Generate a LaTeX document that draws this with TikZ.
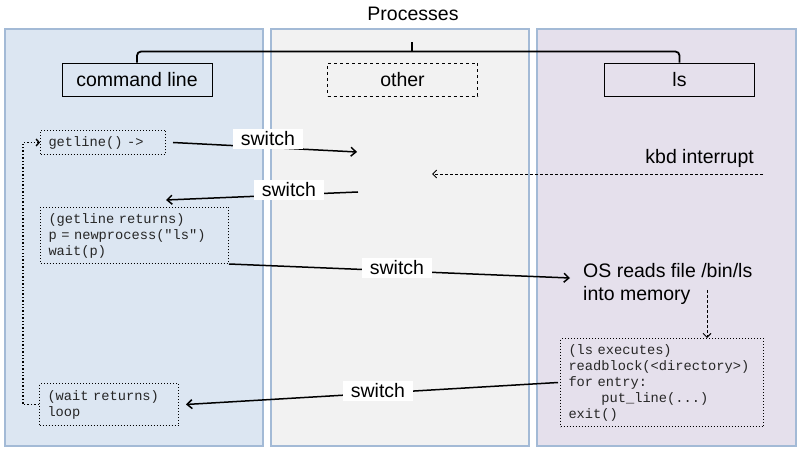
\documentclass[tikz,border=0pt]{standalone}
\usepackage{fontspec}
\setmainfont{Liberation Sans}
\setmonofont{Liberation Mono}
\usepackage{tikz}
\usetikzlibrary{arrows.meta}
\definecolor{cmdfill}{HTML}{DCE6F2}
\definecolor{otherfill}{HTML}{F2F2F2}
\definecolor{lsfill}{HTML}{E5E0EC}
\definecolor{panelline}{HTML}{A3BAD6}
\newcommand{\procfont}{\fontsize{19.5}{23.5}\selectfont}
\newcommand{\codefont}{\ttfamily\fontsize{13.7}{16}\selectfont}
\tikzset{panel/.style={draw=panelline, line width=1.2pt},
    procbox/.style={draw, line width=0.9pt, minimum width=150pt, minimum height=33pt},
    code/.style={draw, dotted, line width=1pt, font=\codefont, text=black!85,
        align=left, inner xsep=8pt, inner ysep=0pt, anchor=north west},
    switchlbl/.style={fill=white, inner xsep=8pt, inner ysep=3pt},
    switch/.style={line width=1.5pt, -{Straight Barb[length=5pt,width=9pt]}},
    signal/.style={dash pattern=on 3pt off 2pt, line width=0.9pt, -{Straight Barb[length=4pt,width=8pt]}},
    brace/.style={line width=1.8pt, rounded corners=4pt}}
\begin{document}
\begin{tikzpicture}[x=1pt, y=-1pt, font=\procfont]
\useasboundingbox (0,0) rectangle (801,449);
\draw[panel, fill=cmdfill] (5,29) rectangle (263,446);
\draw[panel, fill=otherfill] (271,29) rectangle (529,446);
\draw[panel, fill=lsfill] (537,29) rectangle (796,446);

\node (title) at (413,14) {Processes};
\node[procbox] (cmd) at (137,79.5) {command line};
\node[procbox, dashed] (other) at (402.5,79.5) {other};
\node[procbox] (ls) at (679.5,79.5) {ls};
\draw[brace] (cmd.north) -- ++(0,-11) -| (ls.north);
\draw[brace] (412,52) -- (412,42);

\node[code, text width=109pt, minimum height=24pt] (getline) at (40,130) {getline() ->};
\node[code, text width=172pt, minimum height=56pt] (newproc) at (40,207)
    {(getline returns)\\p = newprocess("ls")\\wait(p)};
\node[code, text width=123pt, minimum height=42pt] (waitret) at (39,383)
    {(wait returns)\\loop};
\node[code, text width=187pt, minimum height=88pt] (lsexec) at (560,338)
    {(ls executes)\\readblock(<directory>)\\for entry:\\\hspace*{32.9pt}put\_line(...)\\exit()};
\node[anchor=west, align=left, inner sep=0pt] (osread) at (583,284)
    {OS reads file /bin/ls\\into memory};
\node[anchor=east, inner sep=0pt] (kbd) at (754,158) {kbd interrupt};

\coordinate (sw1end) at (357,152);
\coordinate (sw2start) at (358,192);
\coordinate (sw2end) at (166,200);
\coordinate (kbdstart) at (763,174);
\coordinate (kbdend) at (432,174);
\coordinate (osdown) at (707,290);
\coordinate (loopx) at (23,0);

\draw[switch] ([xshift=7pt]getline.east) -- (sw1end);
\draw[switch] (sw2start) -- (sw2end);
\draw[switch] (newproc.south east) -- ([xshift=-13pt,yshift=6pt]osread.west);
\draw[switch] ([xshift=-2pt]lsexec.west) -- ([xshift=7pt]waitret.east);
\draw[signal] (kbdstart) -- (kbdend);
\draw[signal] (osdown) -- (osdown |- lsexec.north);
\draw[dotted, line width=1.4pt, -{Straight Barb[length=3pt,width=7pt]}]
    (waitret.west) -- (waitret.west -| loopx) |- (getline.west);

\node[switchlbl] (sw1) at (268,139) {switch};
\node[switchlbl] (sw2) at (289,190) {switch};
\node[switchlbl] (sw3) at (397,268) {switch};
\node[switchlbl] (sw4) at (378,391) {switch};
\end{tikzpicture}
\end{document}
